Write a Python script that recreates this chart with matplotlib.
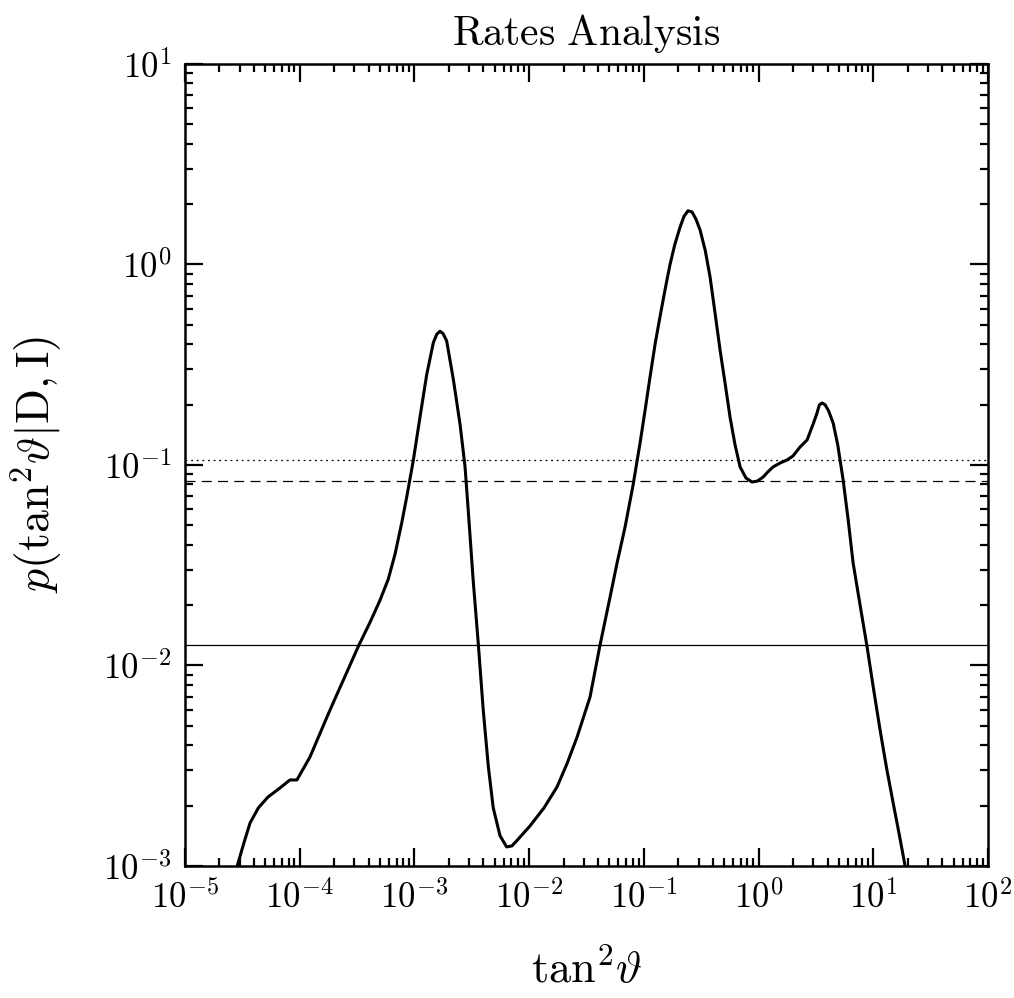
import matplotlib
matplotlib.use("Agg")
import matplotlib.pyplot as plt
import numpy as np
from matplotlib.ticker import LogLocator, FuncFormatter, NullFormatter

plt.rcParams['mathtext.fontset'] = 'cm'

# posterior curve (log10 values)
log_tan2 = [-4.56, -4.486, -4.433, -4.36, -4.276, -4.172, -4.085, -4.024, -3.910,
            -3.762, -3.707, -3.590, -3.489, -3.387, -3.300, -3.228, -3.169, -3.111,
            -3.067, -3.009, -2.951, -2.893, -2.835, -2.805, -2.777, -2.750, -2.719,
            -2.661, -2.602, -2.559, -2.530, -2.487, -2.443, -2.400, -2.356, -2.313,
            -2.254, -2.196, -2.150, -2.109, -1.992, -1.870, -1.757, -1.670, -1.582,
            -1.469, -1.382, -1.295, -1.234, -1.164, -1.094, -1.033, -0.990, -0.946,
            -0.900, -0.859, -0.815, -0.772, -0.730, -0.684, -0.650, -0.615, -0.580,
            -0.545, -0.510, -0.465, -0.423, -0.380, -0.336, -0.290, -0.249, -0.205,
            -0.161, -0.110, -0.057, -0.010, 0.040, 0.080, 0.126, 0.188, 0.248, 0.300,
            0.362, 0.423, 0.478, 0.507, 0.530, 0.554, 0.580, 0.610, 0.650, 0.690,
            0.737, 0.780, 0.824, 0.885, 0.946, 1.000, 1.059, 1.115, 1.173, 1.225,
            1.277, 1.300]
log_prob = [-3.03, -2.885, -2.786, -2.71, -2.656, -2.611, -2.571, -2.571, -2.456,
            -2.257, -2.185, -2.035, -1.905, -1.785, -1.675, -1.570, -1.445, -1.290,
            -1.160, -0.975, -0.760, -0.550, -0.390, -0.348, -0.333, -0.345, -0.381,
            -0.572, -0.798, -1.007, -1.233, -1.581, -1.893, -2.223, -2.502, -2.710,
            -2.849, -2.905, -2.900, -2.875, -2.800, -2.710, -2.606, -2.490, -2.357,
            -2.157, -1.898, -1.660, -1.490, -1.310, -1.100, -0.890, -0.730, -0.560,
            -0.390, -0.260, -0.125, 0.000, 0.100, 0.187, 0.240, 0.268, 0.262,
            0.225, 0.172, 0.070, -0.062, -0.240, -0.426, -0.600, -0.761, -0.900,
            -1.010, -1.065, -1.085, -1.080, -1.060, -1.035, -1.010, -0.990, -0.975, -0.955,
            -0.910, -0.875, -0.792, -0.745, -0.700, -0.691, -0.700, -0.730, -0.791, -0.900,
            -1.075, -1.270, -1.489, -1.700, -1.908, -2.110, -2.322, -2.510, -2.686, -2.840,
            -3.000, -3.070]

# horizontal reference levels
level_dotted = 0.106
level_dashed = 0.0832
level_solid = 0.01265

x = 10.0**np.array(log_tan2)
y = 10.0**np.array(log_prob)

fig = plt.figure(figsize=(10.14, 9.98), dpi=100)
ax = fig.add_axes([0.1824, 0.1323, 0.792, 0.8036])

ax.plot(x, y, color='k', lw=2.2, solid_joinstyle='round')
ax.axhline(level_dotted, color='k', lw=0.9, ls=(0, (1.5, 3)))
ax.axhline(level_dashed, color='k', lw=0.9, ls=(0, (8, 5)))
ax.axhline(level_solid, color='k', lw=0.9)

ax.set_xscale('log')
ax.set_yscale('log')
ax.set_xlim(1e-5, 1e2)
ax.set_ylim(1e-3, 1e1)

fmt = FuncFormatter(lambda v, p: r'$10^{%d}$' % int(round(np.log10(v))))
for axis in (ax.xaxis, ax.yaxis):
    axis.set_major_locator(LogLocator(base=10, numticks=20))
    axis.set_minor_locator(LogLocator(base=10, subs=np.arange(2, 10), numticks=20))
    axis.set_major_formatter(fmt)
    axis.set_minor_formatter(NullFormatter())

ax.tick_params(which='both', direction='in', top=True, right=True, width=1.6)
ax.tick_params(which='major', length=13, labelsize=25, pad=10)
ax.tick_params(which='minor', length=6)
for s in ax.spines.values():
    s.set_linewidth(1.8)

ax.set_title(r'$\mathrm{Rates\ Analysis}$', fontsize=30, pad=14)
ax.set_xlabel(r'$\tan^2\!\vartheta$', fontsize=32, labelpad=24)
ax.set_ylabel(r'$p(\tan^2\!\vartheta|\mathrm{D},\mathrm{I})$', fontsize=33, labelpad=28)

fig.savefig('out.png', dpi=100)
